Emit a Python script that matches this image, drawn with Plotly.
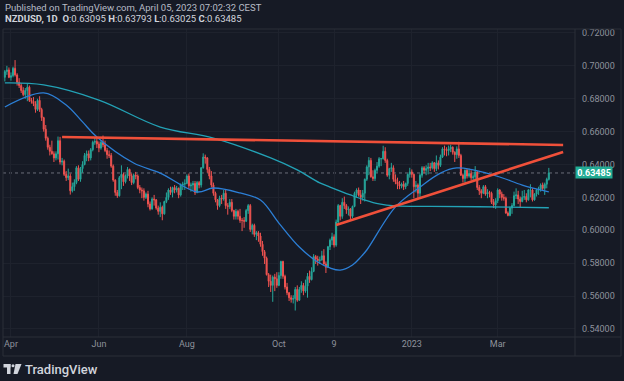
import pandas as pd
import plotly.graph_objects as go

# ---------------- data ----------------
# NZDUSD daily candles, 2022-03-29 .. 2023-04-05 (business days), one line per week
open_ = [
    0.6930, 0.6965, 0.6975, 0.6930,
    0.6940, 0.6985, 0.6945, 0.6900, 0.6880,
    0.6850, 0.6825, 0.6850, 0.6870, 0.6790,
    0.6785, 0.6770, 0.6735, 0.6790, 0.6735,
    0.6685, 0.6615, 0.6560, 0.6505, 0.6480,
    0.6465, 0.6440, 0.6465, 0.6545, 0.6415,
    0.6420, 0.6340, 0.6320, 0.6330, 0.6240,
    0.6265, 0.6290, 0.6380, 0.6310, 0.6375,
    0.6400, 0.6455, 0.6465, 0.6440, 0.6490,
    0.6535, 0.6540, 0.6525, 0.6500, 0.6535,
    0.6520, 0.6485, 0.6460, 0.6455, 0.6390,
    0.6305, 0.6230, 0.6210, 0.6320, 0.6340,
    0.6295, 0.6330, 0.6370, 0.6330, 0.6290,
    0.6335, 0.6330, 0.6260, 0.6245, 0.6240,
    0.6200, 0.6220, 0.6160, 0.6130, 0.6190,
    0.6185, 0.6135, 0.6115, 0.6140, 0.6100,
    0.6175, 0.6200, 0.6245, 0.6230, 0.6260,
    0.6245, 0.6255, 0.6215, 0.6275, 0.6280,
    0.6285, 0.6330, 0.6270, 0.6275, 0.6285,
    0.6230, 0.6290, 0.6275, 0.6380, 0.6445,
    0.6440, 0.6370, 0.6330, 0.6275, 0.6225,
    0.6185, 0.6150, 0.6195, 0.6190, 0.6225,
    0.6150, 0.6145, 0.6170, 0.6120, 0.6085,
    0.6115, 0.6085, 0.6060, 0.6060, 0.6055,
    0.6120, 0.6150, 0.6005, 0.6030, 0.5975,
    0.5985, 0.5965, 0.5915, 0.5870, 0.5830,
    0.5730, 0.5690, 0.5665, 0.5715, 0.5705,
    0.5665, 0.5725, 0.5810, 0.5720, 0.5655,
    0.5620, 0.5590, 0.5580, 0.5585, 0.5640,
    0.5575, 0.5640, 0.5665, 0.5630, 0.5660,
    0.5720, 0.5700, 0.5750, 0.5840, 0.5825,
    0.5815, 0.5820, 0.5845, 0.5795, 0.5775,
    0.5900, 0.5940, 0.5960, 0.5910, 0.6050,
    0.6150, 0.6085, 0.6170, 0.6150, 0.6125,
    0.6130, 0.6085, 0.6145, 0.6225, 0.6245,
    0.6215, 0.6200, 0.6225, 0.6310, 0.6385,
    0.6425, 0.6325, 0.6315, 0.6365, 0.6390,
    0.6435, 0.6435, 0.6480, 0.6425, 0.6335,
    0.6375, 0.6380, 0.6310, 0.6295, 0.6280,
    0.6270, 0.6280, 0.6265, 0.6285, 0.6340,
    0.6355, 0.6340, 0.6265, 0.6275, 0.6225,
    0.6335, 0.6380, 0.6365, 0.6375, 0.6385,
    0.6380, 0.6410, 0.6375, 0.6410, 0.6395,
    0.6445, 0.6495, 0.6490, 0.6485, 0.6495,
    0.6505, 0.6475, 0.6460, 0.6495, 0.6455,
    0.6335, 0.6315, 0.6365, 0.6330, 0.6345,
    0.6320, 0.6325, 0.6355, 0.6260, 0.6240,
    0.6225, 0.6265, 0.6220, 0.6230, 0.6225,
    0.6170, 0.6155, 0.6180, 0.6245, 0.6220,
    0.6200, 0.6195, 0.6105, 0.6090, 0.6135,
    0.6150, 0.6210, 0.6215, 0.6190, 0.6175,
    0.6200, 0.6205, 0.6185, 0.6245, 0.6245,
    0.6185, 0.6220, 0.6245, 0.6250, 0.6275,
    0.6255, 0.6280, 0.63095,
]
high = [
    0.6975, 0.7000, 0.6990, 0.6960,
    0.6995, 0.7035, 0.6955, 0.6925, 0.6895,
    0.6870, 0.6865, 0.6890, 0.6880, 0.6805,
    0.6810, 0.6785, 0.6800, 0.6815, 0.6745,
    0.6690, 0.6640, 0.6570, 0.6520, 0.6545,
    0.6480, 0.6480, 0.6570, 0.6568, 0.6440,
    0.6430, 0.6360, 0.6375, 0.6345, 0.6290,
    0.6310, 0.6390, 0.6395, 0.6385, 0.6420,
    0.6470, 0.6485, 0.6485, 0.6500, 0.6545,
    0.6565, 0.6565, 0.6540, 0.6545, 0.6576,
    0.6545, 0.6500, 0.6485, 0.6470, 0.6400,
    0.6310, 0.6245, 0.6330, 0.6395, 0.6350,
    0.6340, 0.6385, 0.6375, 0.6345, 0.6345,
    0.6355, 0.6340, 0.6275, 0.6260, 0.6255,
    0.6230, 0.6240, 0.6175, 0.6200, 0.6215,
    0.6190, 0.6150, 0.6170, 0.6150, 0.6180,
    0.6230, 0.6255, 0.6265, 0.6265, 0.6275,
    0.6270, 0.6260, 0.6285, 0.6295, 0.6310,
    0.6340, 0.6345, 0.6290, 0.6300, 0.6300,
    0.6300, 0.6300, 0.6385, 0.6468, 0.6460,
    0.6445, 0.6385, 0.6360, 0.6290, 0.6235,
    0.6190, 0.6210, 0.6215, 0.6245, 0.6250,
    0.6165, 0.6190, 0.6190, 0.6125, 0.6130,
    0.6125, 0.6130, 0.6075, 0.6080, 0.6130,
    0.6160, 0.6160, 0.6040, 0.6040, 0.5995,
    0.5995, 0.5985, 0.5935, 0.5880, 0.5840,
    0.5740, 0.5730, 0.5725, 0.5735, 0.5745,
    0.5745, 0.5815, 0.5815, 0.5730, 0.5680,
    0.5625, 0.5605, 0.5605, 0.5655, 0.5665,
    0.5655, 0.5690, 0.5680, 0.5700, 0.5740,
    0.5755, 0.5775, 0.5855, 0.5850, 0.5845,
    0.5840, 0.5875, 0.5885, 0.5810, 0.5905,
    0.5950, 0.5985, 0.5975, 0.6065, 0.6160,
    0.6155, 0.6195, 0.6205, 0.6160, 0.6145,
    0.6135, 0.6150, 0.6235, 0.6255, 0.6260,
    0.6245, 0.6245, 0.6315, 0.6395, 0.6445,
    0.6440, 0.6365, 0.6375, 0.6415, 0.6445,
    0.6440, 0.6514, 0.6505, 0.6435, 0.6380,
    0.6410, 0.6395, 0.6340, 0.6320, 0.6300,
    0.6290, 0.6300, 0.6290, 0.6345, 0.6380,
    0.6370, 0.6345, 0.6300, 0.6285, 0.6345,
    0.6390, 0.6390, 0.6395, 0.6410, 0.6410,
    0.6420, 0.6415, 0.6455, 0.6425, 0.6460,
    0.6505, 0.6515, 0.6505, 0.6515, 0.6520,
    0.6510, 0.6480, 0.6510, 0.6538, 0.6465,
    0.6345, 0.6370, 0.6375, 0.6375, 0.6365,
    0.6340, 0.6390, 0.6360, 0.6275, 0.6250,
    0.6275, 0.6275, 0.6250, 0.6240, 0.6235,
    0.6190, 0.6195, 0.6255, 0.6250, 0.6235,
    0.6220, 0.6205, 0.6115, 0.6145, 0.6165,
    0.6235, 0.6255, 0.6240, 0.6205, 0.6240,
    0.6245, 0.6225, 0.6250, 0.6280, 0.6255,
    0.6225, 0.6250, 0.6265, 0.6285, 0.6290,
    0.6290, 0.6320, 0.63793,
]
low = [
    0.6905, 0.6945, 0.6925, 0.6910,
    0.6930, 0.6935, 0.6880, 0.6865, 0.6835,
    0.6815, 0.6800, 0.6785, 0.6780, 0.6770,
    0.6755, 0.6715, 0.6725, 0.6720, 0.6665,
    0.6600, 0.6545, 0.6490, 0.6455, 0.6460,
    0.6415, 0.6425, 0.6430, 0.6400, 0.6395,
    0.6330, 0.6300, 0.6305, 0.6217, 0.6230,
    0.6240, 0.6280, 0.6300, 0.6295, 0.6350,
    0.6395, 0.6420, 0.6420, 0.6425, 0.6480,
    0.6520, 0.6500, 0.6475, 0.6490, 0.6505,
    0.6475, 0.6435, 0.6440, 0.6380, 0.6295,
    0.6210, 0.6197, 0.6205, 0.6250, 0.6270,
    0.6285, 0.6315, 0.6300, 0.6275, 0.6280,
    0.6310, 0.6250, 0.6225, 0.6195, 0.6180,
    0.6190, 0.6140, 0.6120, 0.6125, 0.6150,
    0.6125, 0.6095, 0.6080, 0.6061, 0.6095,
    0.6165, 0.6185, 0.6215, 0.6200, 0.6225,
    0.6230, 0.6195, 0.6205, 0.6245, 0.6245,
    0.6280, 0.6250, 0.6235, 0.6245, 0.6215,
    0.6225, 0.6255, 0.6260, 0.6375, 0.6405,
    0.6350, 0.6310, 0.6260, 0.6210, 0.6170,
    0.6125, 0.6140, 0.6160, 0.6180, 0.6130,
    0.6095, 0.6130, 0.6110, 0.6065, 0.6065,
    0.6065, 0.6045, 0.5995, 0.6015, 0.6050,
    0.6100, 0.5990, 0.5975, 0.5960, 0.5940,
    0.5930, 0.5900, 0.5845, 0.5795, 0.5725,
    0.5655, 0.5625, 0.5565, 0.5630, 0.5650,
    0.5660, 0.5705, 0.5705, 0.5640, 0.5605,
    0.5570, 0.5560, 0.5555, 0.5512, 0.5565,
    0.5570, 0.5620, 0.5605, 0.5620, 0.5590,
    0.5680, 0.5695, 0.5745, 0.5795, 0.5785,
    0.5795, 0.5815, 0.5790, 0.5740, 0.5770,
    0.5880, 0.5910, 0.5895, 0.5900, 0.6040,
    0.6060, 0.6070, 0.6130, 0.6100, 0.6090,
    0.6060, 0.6075, 0.6140, 0.6200, 0.6205,
    0.6160, 0.6180, 0.6175, 0.6300, 0.6335,
    0.6320, 0.6300, 0.6300, 0.6350, 0.6380,
    0.6390, 0.6430, 0.6410, 0.6325, 0.6310,
    0.6355, 0.6295, 0.6280, 0.6250, 0.6250,
    0.6255, 0.6245, 0.6250, 0.6270, 0.6320,
    0.6320, 0.6195, 0.6230, 0.6190, 0.6195,
    0.6320, 0.6345, 0.6335, 0.6340, 0.6360,
    0.6370, 0.6355, 0.6360, 0.6370, 0.6385,
    0.6440, 0.6455, 0.6450, 0.6455, 0.6475,
    0.6460, 0.6415, 0.6435, 0.6440, 0.6330,
    0.6290, 0.6290, 0.6315, 0.6320, 0.6305,
    0.6300, 0.6300, 0.6245, 0.6215, 0.6195,
    0.6220, 0.6210, 0.6195, 0.6200, 0.6160,
    0.6135, 0.6130, 0.6165, 0.6195, 0.6180,
    0.6180, 0.6100, 0.6085, 0.6085, 0.6100,
    0.6145, 0.6190, 0.6160, 0.6140, 0.6170,
    0.6185, 0.6170, 0.6180, 0.6200, 0.6175,
    0.6180, 0.6205, 0.6215, 0.6235, 0.6240,
    0.6215, 0.6255, 0.63025,
]
close = [
    0.6965, 0.6975, 0.6930, 0.6940,
    0.6985, 0.6945, 0.6900, 0.6880, 0.6850,
    0.6825, 0.6850, 0.6870, 0.6790, 0.6785,
    0.6770, 0.6735, 0.6790, 0.6735, 0.6685,
    0.6615, 0.6560, 0.6505, 0.6480, 0.6465,
    0.6440, 0.6465, 0.6545, 0.6415, 0.6420,
    0.6340, 0.6320, 0.6330, 0.6240, 0.6265,
    0.6290, 0.6380, 0.6310, 0.6375, 0.6400,
    0.6455, 0.6465, 0.6440, 0.6490, 0.6535,
    0.6540, 0.6525, 0.6500, 0.6535, 0.6520,
    0.6485, 0.6460, 0.6455, 0.6390, 0.6305,
    0.6230, 0.6210, 0.6320, 0.6340, 0.6295,
    0.6330, 0.6370, 0.6330, 0.6290, 0.6335,
    0.6330, 0.6260, 0.6245, 0.6240, 0.6200,
    0.6220, 0.6160, 0.6130, 0.6190, 0.6185,
    0.6135, 0.6115, 0.6140, 0.6100, 0.6175,
    0.6200, 0.6245, 0.6230, 0.6260, 0.6245,
    0.6255, 0.6215, 0.6275, 0.6280, 0.6285,
    0.6330, 0.6270, 0.6275, 0.6285, 0.6230,
    0.6290, 0.6275, 0.6380, 0.6445, 0.6440,
    0.6370, 0.6330, 0.6275, 0.6225, 0.6185,
    0.6150, 0.6195, 0.6190, 0.6225, 0.6150,
    0.6145, 0.6170, 0.6120, 0.6085, 0.6115,
    0.6085, 0.6060, 0.6060, 0.6055, 0.6120,
    0.6150, 0.6005, 0.6030, 0.5975, 0.5985,
    0.5965, 0.5915, 0.5870, 0.5830, 0.5730,
    0.5690, 0.5665, 0.5715, 0.5705, 0.5665,
    0.5725, 0.5810, 0.5720, 0.5655, 0.5620,
    0.5590, 0.5580, 0.5585, 0.5640, 0.5575,
    0.5640, 0.5665, 0.5630, 0.5660, 0.5720,
    0.5700, 0.5750, 0.5840, 0.5825, 0.5815,
    0.5820, 0.5845, 0.5795, 0.5775, 0.5900,
    0.5940, 0.5960, 0.5910, 0.6050, 0.6150,
    0.6085, 0.6170, 0.6150, 0.6125, 0.6130,
    0.6085, 0.6145, 0.6225, 0.6245, 0.6215,
    0.6200, 0.6225, 0.6310, 0.6385, 0.6425,
    0.6325, 0.6315, 0.6365, 0.6390, 0.6435,
    0.6435, 0.6480, 0.6425, 0.6335, 0.6375,
    0.6380, 0.6310, 0.6295, 0.6280, 0.6270,
    0.6280, 0.6265, 0.6285, 0.6340, 0.6355,
    0.6340, 0.6265, 0.6275, 0.6225, 0.6335,
    0.6380, 0.6365, 0.6375, 0.6385, 0.6380,
    0.6410, 0.6375, 0.6410, 0.6395, 0.6445,
    0.6495, 0.6490, 0.6485, 0.6495, 0.6505,
    0.6475, 0.6460, 0.6495, 0.6455, 0.6335,
    0.6315, 0.6365, 0.6330, 0.6345, 0.6320,
    0.6325, 0.6355, 0.6260, 0.6240, 0.6225,
    0.6265, 0.6220, 0.6230, 0.6225, 0.6170,
    0.6155, 0.6180, 0.6245, 0.6220, 0.6200,
    0.6195, 0.6105, 0.6090, 0.6135, 0.6150,
    0.6210, 0.6215, 0.6190, 0.6175, 0.6200,
    0.6205, 0.6185, 0.6245, 0.6245, 0.6185,
    0.6220, 0.6245, 0.6250, 0.6275, 0.6255,
    0.6280, 0.6310, 0.63485,
]

# long moving average (teal line), read at points along the curve
ma_long_dates = ["2022-03-29", "2022-04-25", "2022-06-01", "2022-07-13", "2022-08-18",
                 "2022-09-27", "2022-10-14", "2022-10-31", "2022-11-07", "2022-11-21",
                 "2022-11-30", "2022-12-09", "2022-12-21", "2023-01-13", "2023-02-16",
                 "2023-04-05"]
ma_long_vals = [0.6896, 0.6884, 0.6792, 0.6628, 0.6561,
                0.6440, 0.6367, 0.6288, 0.6263, 0.6215,
                0.6184, 0.6160, 0.6148, 0.6145, 0.6143,
                0.6137]

# short moving average (blue line)
ma_short_dates = ["2022-03-29", "2022-04-25", "2022-05-10", "2022-05-20", "2022-05-31",
                  "2022-06-24", "2022-07-13", "2022-08-08", "2022-08-18", "2022-09-06",
                  "2022-09-20", "2022-10-03", "2022-10-17", "2022-10-28", "2022-11-07",
                  "2022-11-14", "2022-11-22", "2022-11-28", "2022-12-01", "2022-12-21",
                  "2023-01-06", "2023-01-20", "2023-02-01", "2023-02-13", "2023-03-02",
                  "2023-03-17", "2023-04-05"]
ma_short_vals = [0.6750, 0.6835, 0.6762, 0.6659, 0.6567,
                 0.6409, 0.6348, 0.6233, 0.6257, 0.6227,
                 0.6184, 0.6044, 0.5898, 0.5807, 0.5771,
                 0.5758, 0.5789, 0.5837, 0.5880, 0.6142,
                 0.6263, 0.6348, 0.6379, 0.6367, 0.6324,
                 0.6275, 0.6233]

# hand-drawn red trend lines
resistance_dates = ["2022-05-06", "2023-04-14"]
resistance_vals = [0.6567, 0.6519]
support_dates = ["2022-11-10", "2023-04-14"]
support_vals = [0.6032, 0.6476]

last_price = 0.63485
price_ticks = [0.54, 0.56, 0.58, 0.60, 0.62, 0.64, 0.66, 0.68, 0.70, 0.72]
time_tick_dates = ["2022-04-01", "2022-06-01", "2022-08-01", "2022-10-03",
                   "2022-11-09", "2023-01-02", "2023-03-01"]
time_tick_labels = ["Apr", "Jun", "Aug", "Oct", "9", "2023", "Mar"]

# ---------------- figure ----------------
dates = pd.bdate_range("2022-03-29", "2023-04-05")
assert len(dates) == len(open_) == len(high) == len(low) == len(close), (
    len(dates), len(open_), len(high), len(low), len(close))

W, H = 624, 381
L, R, T, B = 3, 49, 29, 44
PW, PH = W - L - R, H - T - B
BG = "#161a25"
BORDER = "#2a2e39"
GRID = "#1e222d"
TXT = "#8e929c"
FONT = "Roboto"


def px(x):
    return (x - L) / PW


def py(y):
    return (H - B - y) / PH


fig = go.Figure()

fig.add_trace(go.Scatter(x=ma_long_dates, y=ma_long_vals, mode="lines",
                         line=dict(color="#23a2b6", width=1.3, shape="spline"),
                         hoverinfo="skip"))
fig.add_trace(go.Scatter(x=ma_short_dates, y=ma_short_vals, mode="lines",
                         line=dict(color="#2c7fd6", width=1.3, shape="spline"),
                         hoverinfo="skip"))

fig.add_trace(go.Candlestick(
    x=dates, open=open_, high=high, low=low, close=close,
    increasing=dict(line=dict(color="#26a69a", width=1), fillcolor="#26a69a"),
    decreasing=dict(line=dict(color="#ef5350", width=1), fillcolor="#ef5350"),
    whiskerwidth=0,
))

fig.add_trace(go.Scatter(x=resistance_dates, y=resistance_vals, mode="lines",
                         line=dict(color="#f0503a", width=2.6), hoverinfo="skip"))
fig.add_trace(go.Scatter(x=support_dates, y=support_vals, mode="lines",
                         line=dict(color="#f0503a", width=2.6), hoverinfo="skip"))

shapes = [
    # last price dotted line
    dict(type="line", xref="paper", yref="y", x0=0, x1=1, y0=last_price, y1=last_price,
         line=dict(color="#6a6e79", width=1, dash="dot"), layer="below"),
    # pane border
    dict(type="rect", xref="paper", yref="paper", x0=px(3), x1=px(621), y0=py(29), y1=py(356),
         line=dict(color=BORDER, width=1)),
    dict(type="line", xref="paper", yref="paper", x0=px(575), x1=px(575), y0=py(29), y1=py(356),
         line=dict(color=BORDER, width=1)),
    dict(type="line", xref="paper", yref="paper", x0=px(3), x1=px(621), y0=py(337), y1=py(337),
         line=dict(color=BORDER, width=1)),
    # TradingView logo glyph
    dict(type="rect", xref="paper", yref="paper", x0=px(3.5), x1=px(10.5), y0=py(367.5), y1=py(364),
         fillcolor="#d1d4dc", line=dict(width=0)),
    dict(type="rect", xref="paper", yref="paper", x0=px(7), x1=px(10.5), y0=py(374), y1=py(364),
         fillcolor="#d1d4dc", line=dict(width=0)),
    dict(type="circle", xref="paper", yref="paper", x0=px(11.5), x1=px(14.5), y0=py(367.3), y1=py(364.3),
         fillcolor="#d1d4dc", line=dict(width=0)),
    dict(type="path", xref="paper", yref="paper",
         path=f"M {px(15.5)},{py(364)} L {px(21.5)},{py(364)} L {px(17.5)},{py(374)} L {px(13.5)},{py(374)} Z",
         fillcolor="#d1d4dc", line=dict(width=0)),
]

annotations = [
    dict(xref="paper", yref="paper", x=px(3), y=py(7), xanchor="left", yanchor="middle",
         text="Published on TradingView.com, April 05, 2023 07:02:32 CEST",
         showarrow=False, font=dict(family=FONT, size=9.5, color="#b8bcc6")),
    dict(xref="paper", yref="paper", x=px(3), y=py(19), xanchor="left", yanchor="middle",
         text="<b>NZDUSD, 1D</b>  <b>O</b>:0.63095 <b>H</b>:0.63793 <b>L</b>:0.63025 <b>C</b>:0.63485",
         showarrow=False, font=dict(family=FONT, size=9.5, color="#d1d4dc")),
    dict(xref="paper", yref="y", x=px(575), y=last_price, xanchor="left", yanchor="middle",
         text="<b>0.63485</b>", showarrow=False, bgcolor="#22ab94", width=36, height=11,
         borderpad=0, font=dict(family=FONT, size=9, color="#ffffff")),
    dict(xref="paper", yref="paper", x=px(23), y=py(369), xanchor="left", yanchor="middle",
         text="TradingView", showarrow=False,
         font=dict(family=FONT, size=13, color="#d1d4dc", weight=500)),
]

fig.update_layout(
    width=W, height=H,
    margin=dict(l=L, r=R, t=T, b=B),
    paper_bgcolor=BG, plot_bgcolor=BG,
    showlegend=False,
    shapes=shapes,
    annotations=annotations,
    font=dict(family=FONT, color=TXT, size=9),
    xaxis=dict(
        type="date",
        rangebreaks=[dict(bounds=["sat", "mon"])],
        range=["2022-03-28 02:24", "2023-04-21 19:12"],
        rangeslider=dict(visible=False),
        tickmode="array", tickvals=time_tick_dates, ticktext=time_tick_labels,
        showgrid=True, gridcolor=GRID, gridwidth=1,
        zeroline=False, showline=False, ticks="",
        tickfont=dict(family=FONT, size=9, color=TXT),
        fixedrange=True,
    ),
    yaxis=dict(
        side="right",
        range=[0.5351, 0.7224],
        tickmode="array", tickvals=price_ticks, tickformat=".5f",
        showgrid=True, gridcolor=GRID, gridwidth=1,
        zeroline=False, showline=False, ticks="",
        ticklabelstandoff=6,
        tickfont=dict(family=FONT, size=9, color=TXT),
        fixedrange=True,
    ),
)

fig.write_html(
    "out.html",
    config={"displayModeBar": False},
    post_script="document.body.style.margin='0';document.body.style.background='#161a25';",
)
